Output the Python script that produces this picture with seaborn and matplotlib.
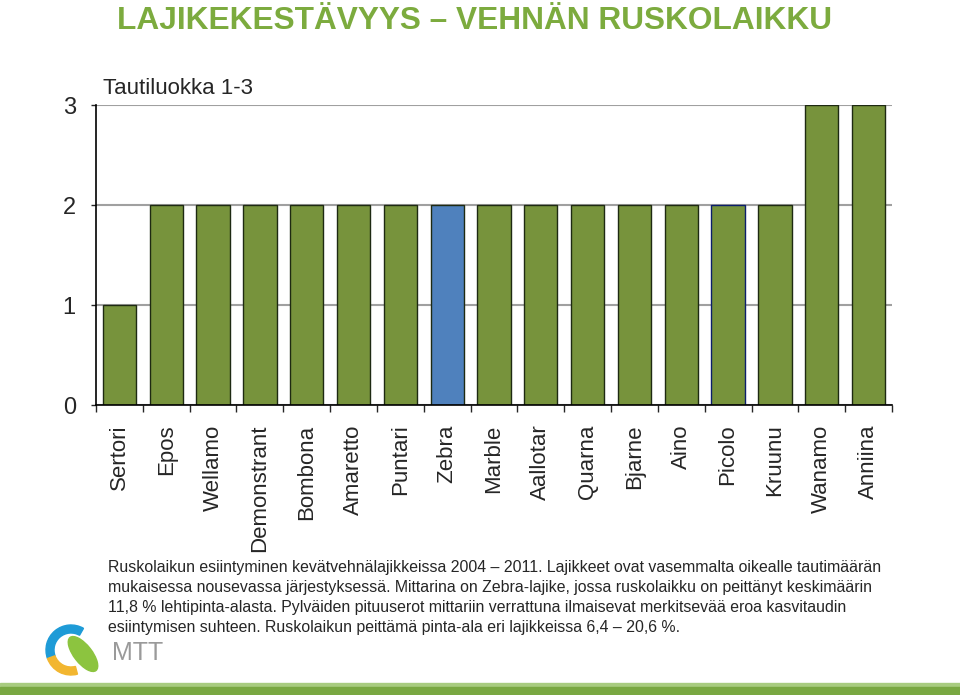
import matplotlib
matplotlib.use("Agg")
import matplotlib.pyplot as plt
import seaborn as sns
from matplotlib.patches import Wedge, Ellipse, Rectangle

# data
varieties = ["Sertori", "Epos", "Wellamo", "Demonstrant", "Bombona", "Amaretto",
             "Puntari", "Zebra", "Marble", "Aallotar", "Quarna", "Bjarne",
             "Aino", "Picolo", "Kruunu", "Wanamo", "Anniina"]
disease_class = [1, 2, 2, 2, 2, 2, 2, 2, 2, 2, 2, 2, 2, 2, 2, 3, 3]
y_ticks = [0, 1, 2, 3]

GREEN = "#77933C"
BLUE = "#4F81BD"
TITLE_GREEN = "#7CAB3E"

sns.set_style("white")
plt.rcParams["font.family"] = ["Liberation Sans", "DejaVu Sans"]

fig = plt.figure(figsize=(9.6, 6.95), dpi=100)

# background overlay for logo and bottom band (pixel coordinates)
bg = fig.add_axes([0, 0, 1, 1], zorder=0)
bg.set_xlim(0, 960)
bg.set_ylim(695, 0)
bg.axis("off")

ax = fig.add_axes([96 / 960, 1 - 405 / 695, (892 - 96) / 960, 300 / 695], zorder=1)

palette = [BLUE if v == "Zebra" else GREEN for v in varieties]
sns.barplot(x=varieties, y=disease_class, hue=varieties, palette=palette,
            width=0.71, legend=False, saturation=1, ax=ax, zorder=3)
for patch, v in zip(ax.patches, varieties):
    patch.set_edgecolor("#0B1E6B" if v == "Picolo" else "#1E2A12")
    patch.set_linewidth(1.0)

ax.set_xlim(-0.5, len(varieties) - 0.5)
ax.set_ylim(0, 3)
ax.set_yticks(y_ticks)
ax.set_yticklabels([str(t) for t in y_ticks], fontsize=17)
ax.yaxis.grid(True, color="#A0A0A0", linewidth=1.5, zorder=0)
ax.set_axisbelow(True)
ax.tick_params(axis="y", length=3.5, width=1, direction="out", pad=11, left=True)

ax.set_xticks(range(len(varieties)))
ax.set_xticklabels(varieties, rotation=90, fontsize=16, va="top")
ax.set_xticks([i - 0.5 for i in range(len(varieties) + 1)], minor=True)
ax.tick_params(axis="x", which="major", length=0, pad=14)
ax.tick_params(axis="x", which="minor", length=5, width=1, direction="out", bottom=True)
ax.set_xlabel("")
ax.set_ylabel("")

for side in ["top", "right"]:
    ax.spines[side].set_visible(False)
for side in ["left", "bottom"]:
    ax.spines[side].set_color("black")
    ax.spines[side].set_linewidth(1.2)
    ax.spines[side].set_zorder(5)

# texts
fig.text(0.494, 1 - 21 / 695, "LAJIKEKESTÄVYYS – VEHNÄN RUSKOLAIKKU", ha="center",
         va="center", fontsize=22.8, fontweight="bold", color=TITLE_GREEN)
fig.text(103 / 960, 1 - 88 / 695, "Tautiluokka 1-3", ha="left", va="center",
         fontsize=16)

caption = ("Ruskolaikun esiintyminen kevätvehnälajikkeissa 2004 – 2011. Lajikkeet ovat vasemmalta oikealle tautimäärän\n"
           "mukaisessa nousevassa järjestyksessä. Mittarina on Zebra-lajike, jossa ruskolaikku on peittänyt keskimäärin\n"
           "11,8 % lehtipinta-alasta. Pylväiden pituuserot mittariin verrattuna ilmaisevat merkitsevää eroa kasvitaudin\n"
           "esiintymisen suhteen. Ruskolaikun peittämä pinta-ala eri lajikkeissa 6,4 – 20,6 %.")
fig.text(108 / 960, 1 - 560 / 695, caption, ha="left", va="top", fontsize=11.4,
         linespacing=1.43)

# logo
bg.add_patch(Wedge((71, 650), 25, 160, 300, width=8, color="#1E9BD7"))
bg.add_patch(Wedge((71, 650), 25, 75, 160, width=8, color="#F2B630"))
bg.add_patch(Ellipse((83, 654), 18, 42, angle=-38, color="#8CC43F"))
bg.text(112, 653, "MTT", fontsize=18, color="#9A9A9A", va="center", ha="left")

# bottom band
bg.add_patch(Rectangle((0, 683), 960, 4, color="#A8CC80"))
bg.add_patch(Rectangle((0, 687), 960, 8, color="#79A842"))

fig.savefig("out.png", dpi=100)
